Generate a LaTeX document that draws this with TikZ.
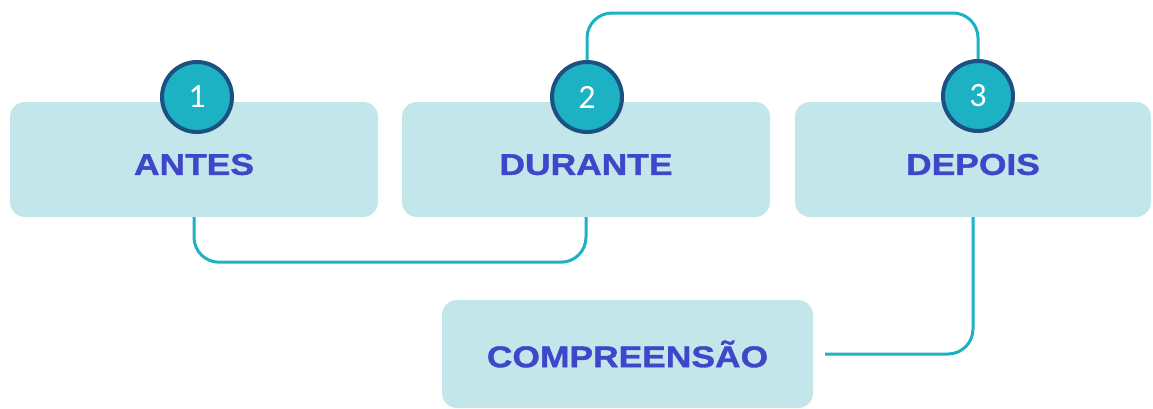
\documentclass[tikz,border=0pt]{standalone}
\usepackage{fontspec}
\usepackage{tikz}
\usetikzlibrary{calc, positioning}
\newfontfamily\headfont{Liberation Sans}[FakeStretch=1.18, FakeBold=1.2]
\newfontfamily\numfont{Carlito}
\definecolor{card}{RGB}{195,230,234}
\definecolor{teal}{RGB}{28,178,196}
\definecolor{navy}{RGB}{27,80,128}
\definecolor{ink}{RGB}{62,70,201}

\begin{document}
\begin{tikzpicture}[
  x=1pt, y=-1pt,
  box/.style={fill=card, rounded corners=15pt, minimum height=115pt, inner sep=0pt, text=ink, font=\headfont\bfseries\fontsize{30}{36}\selectfont},
  num/.style={circle, draw=navy, line width=4pt, fill=teal, minimum size=70pt, inner sep=0pt, text=white, font=\numfont\fontsize{34}{40}\selectfont},
  link/.style={draw=teal, line width=3pt, rounded corners=25pt}
]
\useasboundingbox (0,0) rectangle (1153,408);
\node[box, minimum width=368pt, text height=31pt] (an) at (194,159.5) {ANTES};
\node[box, minimum width=368pt, text height=31pt] (du) at (586,159.5) {DURANTE};
\node[box, minimum width=356pt, text height=31pt] (de) at (973,159.5) {DEPOIS};
\node[box, minimum width=371pt, minimum height=108pt] (co) at (627.5,354) {COMPREENSÃO};
\coordinate (coend) at ([xshift=12pt]co.east);
% connectors
\draw[link] (an.south) -- ++(0,45) -| (du.south);
\draw[link] (de.south) |- (coend);
\node[num] (n1) at (197,97) {1};
\node[num] (n2) at (587,97) {2};
\node[num] (n3) at (978,96) {3};
\draw[link] (n2.north) -- ++(0,-47) -| (n3.north);
\end{tikzpicture}
\end{document}
